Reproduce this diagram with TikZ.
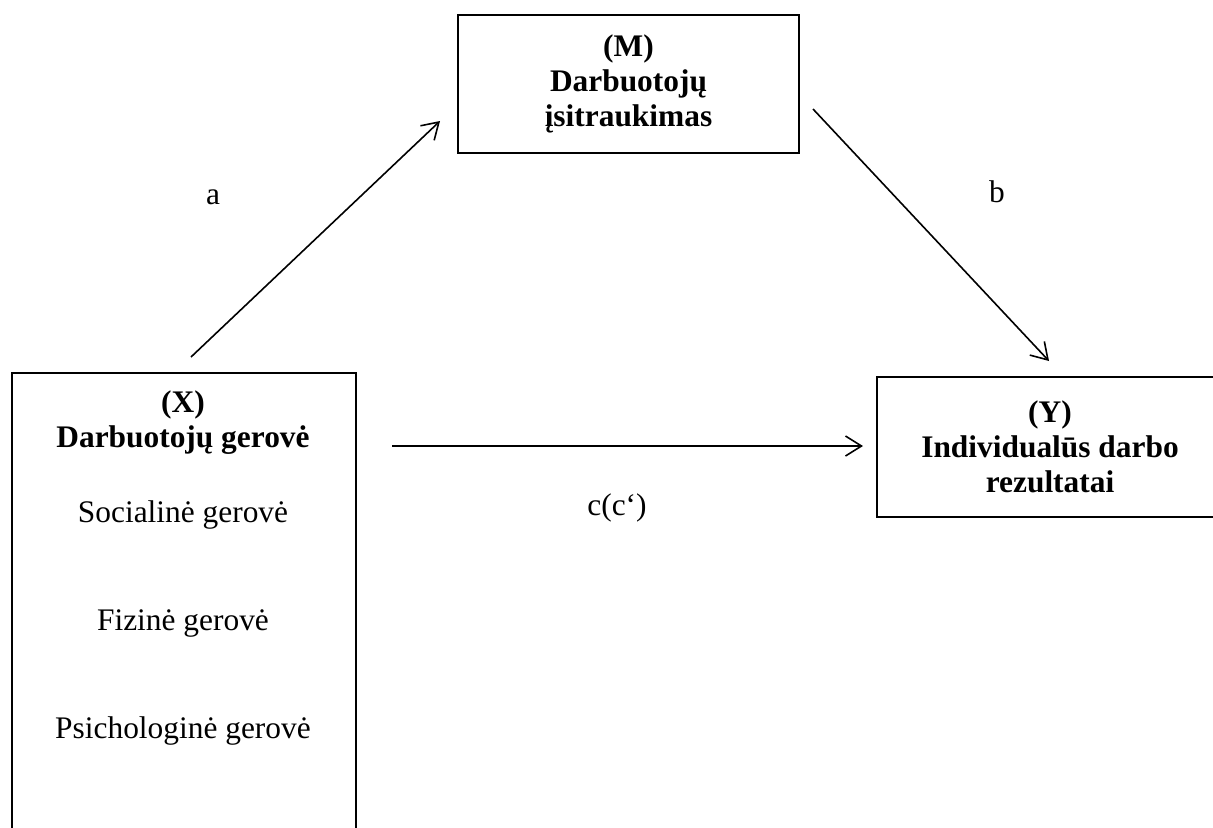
\documentclass[tikz,border=0pt]{standalone}
\usepackage{fontspec}
\setmainfont{Liberation Serif}
\usepackage{tikz}
\usetikzlibrary{arrows.meta, positioning, calc}
\tikzset{
  varbox/.style={
    draw, line width=0.9pt, inner sep=0pt, align=center,
    font=\fontsize{15.7}{17.5}\selectfont\bfseries
  },
  vartext/.style={align=center, inner sep=0pt, font=\fontsize{15.7}{17.5}\selectfont\bfseries},
  dimtext/.style={inner sep=0pt, font=\fontsize{15.7}{17.5}\selectfont},
  effect/.style={-{Straight Barb[length=8pt, width=10pt, line width=0.8pt]}, line width=0.8pt},
  pathlabel/.style={inner sep=0pt, font=\fontsize{15.7}{17.5}\selectfont}
}

\begin{document}
\begin{tikzpicture}[x=0.5pt, y=-0.5pt]
  \clip (0,0) rectangle (1213,827);
  % variables
  \node[varbox, minimum width=170.5pt, minimum height=69pt] (mbox) at (628.5,84) {(M)\\Darbuotojų\\įsitraukimas};
  \node[varbox, minimum width=173pt, minimum height=70pt] (ybox) at (1050,447) {(Y)\\Individualūs darbo\\rezultatai};
  \node[varbox, anchor=north west, minimum width=172pt, minimum height=300pt] (xbox) at (11,372) {};
  \node[vartext] (xhead) at (183,423) {(X)\\Darbuotojų gerovė};
  \node[dimtext] (social) at (183,515) {Socialinė gerovė};
  \node[dimtext] (fizine) at (183,623) {Fizinė gerovė};
  \node[dimtext] (psich) at (183,731) {Psichologinė gerovė};
  % paths
  \coordinate (a0) at (191,357);
  \coordinate (a1) at (440,121);
  \coordinate (b0) at (813,109);
  \coordinate (b1) at (1049,361);
  \coordinate (c0) at (392,446);
  \coordinate (c1) at (863,446);
  \draw[effect] (a0) -- (a1);
  \draw[effect] (b0) -- (b1);
  \draw[effect] (c0) -- (c1);
  \node[pathlabel] (alab) at (213,197) {a};
  \node[pathlabel] (blab) at (997,192) {b};
  \node[pathlabel] (clab) at (617,508) {c(c‘)};
\end{tikzpicture}
\end{document}
